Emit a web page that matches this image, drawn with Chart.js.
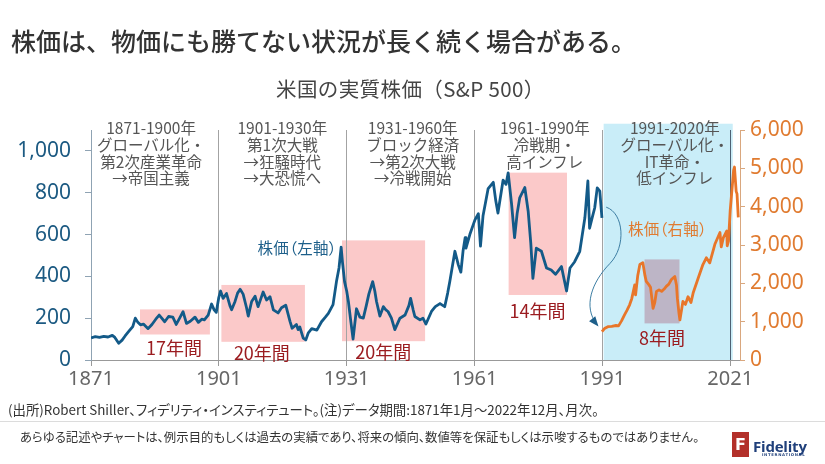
<!DOCTYPE html>
<html><head><meta charset="utf-8">
<script src="https://cdn.jsdelivr.net/npm/chart.js@4/dist/chart.umd.min.js"></script>
<style>
html,body{margin:0;padding:0;background:#fff;}
#wrap{position:relative;width:825px;height:464px;overflow:hidden;font-family:"Noto Sans CJK JP","Noto Sans",sans-serif;}
#c{position:absolute;left:0;top:0;}
.t{position:absolute;white-space:nowrap;line-height:1;}
#title{left:11px;top:28px;font-size:25px;font-weight:500;color:#333;}
#sub{left:0;width:825px;top:78px;font-size:20.5px;color:#444;}
#sub span{position:absolute;left:276px;letter-spacing:0.4px;}
#note{left:8px;top:403px;font-size:13.4px;color:#333;font-feature-settings:"palt";}
#sep{position:absolute;left:0;top:421px;width:825px;height:1px;background:#dcdcdc;}
#disc{left:20px;top:431px;font-size:12.4px;color:#333;font-feature-settings:"palt";}
#logoF{position:absolute;left:732px;top:432px;width:17px;height:25px;background:#b3302a;color:#fff;font:bold 16px "DejaVu Sans",sans-serif;text-align:center;line-height:25px;}
#logoT{left:753px;top:436px;font:bold 15px "Open Sans","DejaVu Sans",sans-serif;color:#1f3f7a;letter-spacing:-0.2px;}
#logoI{left:762px;top:453px;font:bold 7px "DejaVu Sans",sans-serif;color:#1f3f7a;transform:scale(0.55);transform-origin:0 0;letter-spacing:1.2px;}
.era{position:absolute;text-align:center;font-size:15.5px;line-height:16.8px;color:#555;white-space:nowrap;transform:translateX(-50%);}
.ann{position:absolute;white-space:nowrap;line-height:1;}
</style></head>
<body>
<div id="wrap">
<canvas id="c" width="825" height="464"></canvas>
<div class="t" id="title">株価は、物価にも勝てない状況が長く続く場合がある。</div>
<div class="t" id="sub"><span>米国の実質株価（S&amp;P 500）</span></div>
<div class="t" id="note">(出所)Robert Shiller、フィデリティ・インスティテュート。(注)データ期間:1871年1月～2022年12月、月次。</div>
<div id="sep"></div>
<div class="t" id="disc">あらゆる記述やチャートは、例示目的もしくは過去の実績であり、将来の傾向、数値等を保証もしくは示唆するものではありません。</div>
<div id="logoF">F</div>
<div class="t" id="logoT">Fidelity</div>
<div class="t" id="logoI">INTERNATIONAL</div>
</div>
<script>
// ---- data ----
const tickYears = [1871, 1901, 1931, 1961, 1991, 2021];
const leftTicks = [0, 200, 400, 600, 800, 1000];
const rightTicks = [0, 1000, 2000, 3000, 4000, 5000, 6000];

const blueYears = [1871.0,1872.0,1873.0,1874.0,1875.0,1876.0,1876.6,1877.5,1878.3,1879.0,1880.0,1880.8,1881.4,1882.0,1882.6,1883.3,1884.4,1885.3,1886.2,1887.0,1887.6,1888.3,1889.2,1890.2,1891.0,1891.8,1892.6,1893.4,1894.3,1895.4,1896.2,1897.0,1897.6,1898.5,1899.3,1899.9,1900.4,1901.0,1901.4,1902.0,1902.8,1903.6,1904.0,1904.8,1905.4,1906.0,1906.7,1907.5,1907.9,1908.7,1909.5,1910.2,1910.8,1911.4,1912.2,1913.0,1913.8,1914.9,1915.7,1916.7,1917.7,1918.2,1919.2,1919.6,1920.0,1920.8,1921.4,1922.0,1922.8,1924.0,1925.1,1926.0,1926.7,1927.8,1928.6,1929.2,1929.7,1930.0,1930.5,1931.0,1931.4,1932.0,1932.5,1933.3,1934.1,1934.9,1935.6,1936.2,1937.1,1937.6,1938.0,1938.8,1939.6,1940.2,1940.7,1941.5,1942.3,1943.5,1944.7,1945.6,1946.0,1946.6,1947.0,1948.2,1948.9,1949.6,1950.9,1951.8,1952.9,1954.0,1954.7,1955.2,1956.4,1957.2,1957.8,1958.3,1958.8,1959.0,1959.9,1961.1,1961.9,1962.4,1963.0,1964.2,1965.4,1966.0,1966.5,1967.7,1968.4,1968.9,1969.7,1970.4,1971.0,1971.6,1972.8,1973.6,1974.2,1974.7,1975.5,1976.7,1977.9,1979.0,1980.0,1980.6,1981.4,1982.6,1983.4,1984.5,1985.7,1986.9,1987.6,1988.0,1988.6,1989.2,1989.8,1990.4,1990.9];
const blueValues = [106,112,108,113,110,118,108,80,95,115,140,160,200,180,168,172,150,170,195,215,200,183,208,205,170,200,231,175,185,205,180,195,192,215,268,240,228,300,330,295,318,260,240,280,320,338,315,250,210,280,305,255,290,325,287,303,240,225,250,262,185,152,170,145,158,105,96,130,150,143,183,205,223,265,375,440,540,470,375,330,280,180,100,245,205,200,260,315,375,330,280,210,255,240,232,200,145,200,215,260,295,240,208,192,200,172,232,255,270,255,320,375,520,455,420,520,585,535,600,670,700,545,690,820,850,760,703,860,840,895,745,585,700,775,825,710,560,390,535,520,440,430,410,425,447,330,440,470,520,680,856,630,680,727,823,808,680];

const orangeYears = [1990.9,1991.5,1992.3,1993.2,1994.2,1994.8,1995.5,1996.2,1996.8,1997.4,1997.9,1998.6,1998.8,1999.3,1999.8,2000.5,2001.0,2001.3,2001.9,2002.3,2002.9,2003.3,2003.7,2004.3,2004.9,2005.5,2006.0,2006.6,2007.2,2008.0,2008.4,2008.6,2009.0,2009.2,2009.9,2010.5,2011.1,2011.8,2012.3,2013.5,2014.6,2015.4,2016.2,2017.4,2018.6,2018.9,2019.4,2020.2,2020.3,2020.6,2021.0,2021.8,2022.0,2022.4,2022.6,2022.9];
const orangeValues = [740,820,868,880,900,890,1020,1176,1300,1440,1600,1960,1700,2200,2490,2540,2200,2050,1966,1900,1350,1500,1790,1830,1790,1850,1920,1980,2100,2180,1950,1614,1200,1045,1526,1450,1650,1500,1746,2140,2490,2667,2534,3018,3325,2950,3193,3368,2980,3100,3895,4950,5035,4400,4333,3720];

// stagnation periods (start year, end year, low value, high value, axis)
const periodStart = [1882.5, 1901.6, 1929.9, 1969.0, 2000.9];
const periodEnd   = [1898.9, 1921.2, 1949.4, 1982.7, 2009.1];
const periodLow   = [122, 87, 90, 311, 955];
const periodHigh  = [242, 359, 572, 896, 2624];
const periodAxis  = ['yL','yL','yL','yL','yR'];
const periodLabel = ['17年間','20年間','20年間','14年間','8年間'];
const periodLabelYear  = [1890.5, 1911.1, 1939.6, 1975.8, 2005.0];
const periodLabelValue = [62, 38, 42, 239, 110];

// eras
const eraCenterYear = [1885.1, 1915.9, 1946.5, 1977.5, 2008.0];
const eraLines = [
  ['1871-1900年','グローバル化・','第2次産業革命','→帝国主義'],
  ['1901-1930年','第1次大戦','→狂騒時代','→大恐慌へ'],
  ['1931-1960年','ブロック経済','→第2次大戦','→冷戦開始'],
  ['1961-1990年','冷戦期・','高インフレ'],
  ['1991-2020年','グローバル化・','IT革命・','低インフレ']
];
const modernEraStart = 1991.3, modernEraEnd = 2021.6;

const wrap = document.getElementById('wrap');
const eraDivs = eraLines.map(lines => {
  const d = document.createElement('div'); d.className = 'era';
  d.innerHTML = lines.join('<br>'); wrap.appendChild(d); return d;
});
const perDivs = periodLabel.map(s => {
  const d = document.createElement('div'); d.className = 'ann';
  d.style.cssText += 'font-size:18px;color:#9b1c20;transform:translate(-50%,-50%);';
  d.textContent = s; wrap.appendChild(d); return d;
});
const lblL = document.createElement('div'); lblL.className='ann';
lblL.style.cssText += 'font-size:15.5px;color:#1d5f8a;transform:translate(-100%,-50%);font-feature-settings:"palt";letter-spacing:0.3px;';
lblL.textContent='株価（左軸）'; wrap.appendChild(lblL);
const lblR = document.createElement('div'); lblR.className='ann';
lblR.style.cssText += 'font-size:15.5px;color:#e07b30;transform:translate(-50%,-50%);font-feature-settings:"palt";letter-spacing:0.3px;';
lblR.textContent='株価（右軸）'; wrap.appendChild(lblR);

const boxPlugin = {
  id: 'boxes',
  beforeDraw(chart) {
    const {ctx, scales} = chart;
    const x = scales.x, yL = scales.yL;
    ctx.save();
    const bx0 = x.getPixelForValue(modernEraStart), bx1 = x.getPixelForValue(modernEraEnd);
    const by0 = yL.getPixelForValue(1130), by1 = yL.getPixelForValue(0);
    ctx.fillStyle = '#c9edf8';
    ctx.fillRect(bx0, by0, bx1 - bx0, by1 - by0);
    for (let i = 0; i < periodStart.length; i++) {
      const ys = scales[periodAxis[i]];
      const px0 = x.getPixelForValue(periodStart[i]), px1 = x.getPixelForValue(periodEnd[i]);
      const py0 = ys.getPixelForValue(periodHigh[i]), py1 = ys.getPixelForValue(periodLow[i]);
      ctx.fillStyle = periodAxis[i] === 'yR' ? '#bdb5c6' : '#fbc9c9';
      ctx.fillRect(px0, py0, px1 - px0, py1 - py0);
    }
    ctx.restore();
  },
  afterDatasetsDraw(chart) {
    const {ctx, scales} = chart;
    const x = scales.x, y = scales.yL;
    const P = (a, b) => [x.getPixelForValue(a), y.getPixelForValue(b)];
    const p0 = P(1991.9, 731), c1 = P(1996.1, 702), c2 = P(1996.6, 543), p1 = P(1992.8, 462);
    const c3 = P(1988.6, 375), c4 = P(1986.3, 255), p2 = P(1989.8, 168);
    ctx.save();
    ctx.strokeStyle = '#3d7ea3'; ctx.lineWidth = 1;
    ctx.beginPath(); ctx.moveTo(...p0);
    ctx.bezierCurveTo(...c1, ...c2, ...p1);
    ctx.bezierCurveTo(...c3, ...c4, ...p2);
    ctx.stroke();
    const ang = Math.atan2(p2[1] - c4[1], p2[0] - c4[0]);
    ctx.fillStyle = '#1d5f8a';
    ctx.beginPath();
    ctx.moveTo(p2[0] + 2*Math.cos(ang), p2[1] + 2*Math.sin(ang));
    ctx.lineTo(p2[0] - 8*Math.cos(ang) + 4*Math.sin(ang), p2[1] - 8*Math.sin(ang) - 4*Math.cos(ang));
    ctx.lineTo(p2[0] - 8*Math.cos(ang) - 4*Math.sin(ang), p2[1] - 8*Math.sin(ang) + 4*Math.cos(ang));
    ctx.closePath(); ctx.fill();
    ctx.restore();
  },
  afterRender(chart) {
    const {scales} = chart;
    const x = scales.x, yL = scales.yL, yR = scales.yR;
    eraDivs.forEach((d, i) => {
      d.style.left = x.getPixelForValue(eraCenterYear[i]) + 'px';
      d.style.top = (yL.getPixelForValue(1100) - 11) + 'px';
    });
    perDivs.forEach((d, i) => {
      d.style.left = x.getPixelForValue(periodLabelYear[i]) + 'px';
      d.style.top = yL.getPixelForValue(periodLabelValue[i]) + 'px';
    });
    lblL.style.left = x.getPixelForValue(1928.7) + 'px';
    lblL.style.top = yL.getPixelForValue(535) + 'px';
    lblR.style.left = x.getPixelForValue(2006.3) + 'px';
    lblR.style.top = yR.getPixelForValue(3420) + 'px';
  }
};

const numFont = {family: '"Noto Sans", sans-serif', size: 21};
new Chart(document.getElementById('c'), {
  type: 'line',
  data: {
    datasets: [
      {data: blueYears.map((v, i) => ({x: v, y: blueValues[i]})), yAxisID: 'yL',
       borderColor: '#135a88', borderWidth: 2.8, pointRadius: 0, tension: 0, borderJoinStyle: 'round'},
      {data: orangeYears.map((v, i) => ({x: v, y: orangeValues[i]})), yAxisID: 'yR',
       borderColor: '#e8762a', borderWidth: 2.8, pointRadius: 0, tension: 0, borderJoinStyle: 'round'}
    ]
  },
  options: {
    responsive: false, animation: false, devicePixelRatio: 1,
    layout: {padding: {top: 130, bottom: 70, left: 0, right: 0}},
    plugins: {legend: {display: false}, tooltip: {enabled: false}, title: {display: false}},
    scales: {
      x: {
        type: 'linear', min: 1871, max: 2023.3,
        afterBuildTicks: s => { s.ticks = tickYears.map(v => ({value: v})); },
        afterFit: s => { s.height = 34; },
        ticks: {font: {family: '"Noto Sans", sans-serif', size: 20}, color: '#666', padding: 1, maxRotation: 0, autoSkip: false, callback: v => String(v)},
        grid: {
          color: c => (c.tick && c.tick.value === 2021) ? '#4e6274' : (c.tick && c.tick.value === 1871 ? 'rgba(0,0,0,0)' : '#a3a3a3'),
          tickColor: '#999', tickLength: 6, lineWidth: 1, drawOnChartArea: true
        },
        border: {display: true, color: '#999'}
      },
      yL: {
        position: 'left', min: 0, max: 1100,
        afterBuildTicks: s => { s.ticks = leftTicks.map(v => ({value: v})); },
        afterFit: s => { s.width = 91; },
        ticks: {font: numFont, color: '#1c5a82', padding: 14, callback: v => v.toLocaleString('en-US')},
        grid: {drawOnChartArea: false, tickLength: 6, color: '#8fa3b3'},
        border: {display: true, color: '#8fa3b3'}
      },
      yR: {
        position: 'right', min: 0, max: 6000,
        afterBuildTicks: s => { s.ticks = rightTicks.map(v => ({value: v})); },
        afterFit: s => { s.width = 85; },
        ticks: {font: numFont, color: '#e07b30', padding: 5, callback: v => v.toLocaleString('en-US')},
        grid: {drawOnChartArea: false, tickLength: 5, color: '#d9a77e'},
        border: {display: true, color: '#d9a77e'}
      }
    }
  },
  plugins: [boxPlugin]
});
</script>
</body></html>
